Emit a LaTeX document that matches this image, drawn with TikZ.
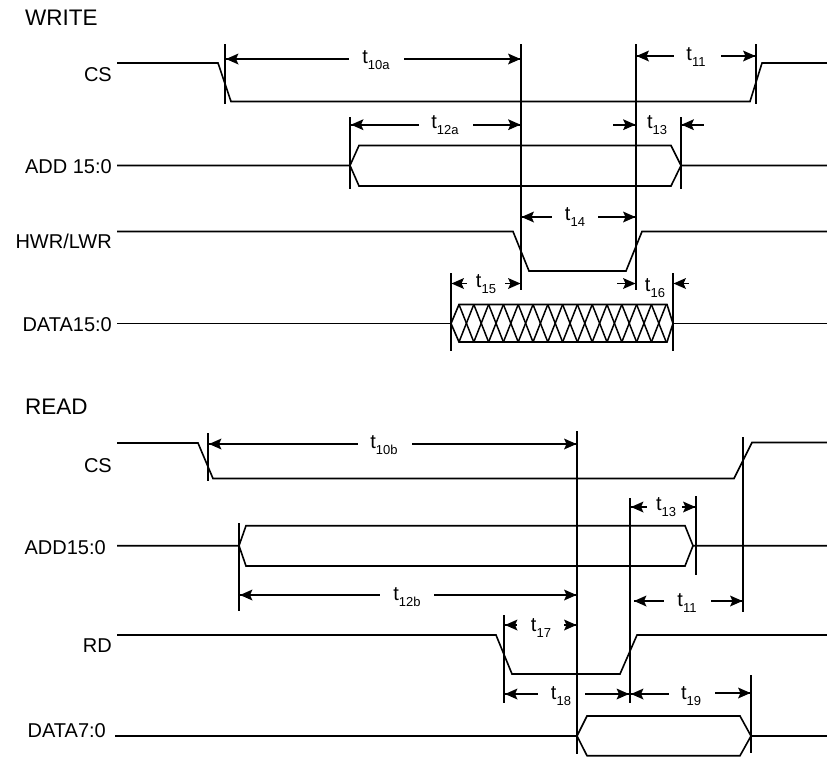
\documentclass[tikz,border=0pt]{standalone}
\usepackage{fontspec}
\setmainfont{Liberation Sans}
\newcommand{\tlab}[4]{\node[tlabel] (#1) at (#2,#3) {t\raisebox{-5.5pt}{\fontsize{13}{14}\selectfont #4}};}
\newcommand{\dimL}[3]{\draw[dimline] (#1,#3) -- (#2,#3);\fill[shift={(#1,#3)}] (0,0) -- (12.5,-5.5) -- (10,0) -- (12.5,5.5) -- cycle;}
\newcommand{\dimR}[3]{\draw[dimline] (#1,#3) -- (#2,#3);\fill[shift={(#2,#3)}] (0,0) -- (-12.5,-5.5) -- (-10,0) -- (-12.5,5.5) -- cycle;}
\tikzset{
  wave/.style={line width=1.6pt,line join=miter},
  vmark/.style={line width=1.6pt},
  dimline/.style={line width=1.6pt},
  siglabel/.style={font=\fontsize{20}{22}\selectfont,inner sep=0pt,anchor=east},
  title/.style={font=\fontsize{22.5}{24}\selectfont,inner sep=0pt,anchor=west},
  tlabel/.style={font=\fontsize{20}{22}\selectfont,inner sep=0pt}
}
\begin{document}
\begin{tikzpicture}[x=1pt,y=-1pt]
\useasboundingbox (0,0) rectangle (827,756);
% titles and signal names
\node[title] (wtitle) at (25,18) {WRITE};
\node[siglabel] (wcs) at (112,75) {CS};
\node[siglabel] (wadd) at (112,167) {ADD 15:0};
\node[siglabel] (whwr) at (112,241) {HWR/LWR};
\node[siglabel] (wdata) at (112,325) {DATA15:0};
\node[title] (rtitle) at (25,407) {READ};
\node[siglabel] (rcs) at (112,466) {CS};
\node[siglabel] (radd) at (106,548) {ADD15:0};
\node[siglabel] (rrd) at (112,646) {RD};
\node[siglabel] (rdata) at (106,731) {DATA7:0};
% WRITE waves
\draw[wave] (117,63) -- (218,63) -- (231,101.5) -- (750,101.5) -- (762,63) -- (827,63);
\draw[wave] (117,165.5) -- (350,165.5) -- (359,145.5) -- (671,145.5) -- (681,165.5) -- (827,165.5);
\draw[wave] (350,165.5) -- (359,186) -- (671,186) -- (681,165.5);
\draw[wave] (117,231.5) -- (513,231.5) -- (529,271) -- (626,271) -- (642,231.5) -- (827,231.5);
\draw[wave] (117,323.5) -- (451,323.5);
\draw[wave] (673,323.5) -- (827,323.5);
\draw[wave] (451,323.5) -- (459,304.5) -- (667,304.5) -- (673,323.5) -- (667,342) -- (459,342) -- cycle;
\foreach \i in {0,...,13} {
  \pgfmathsetmacro{\xa}{459+\i*14.8}
  \pgfmathsetmacro{\xb}{459+(\i+1)*14.8}
  \draw[line width=1.5pt] (\xa,304.5) -- (\xb,342);
  \draw[line width=1.5pt] (\xa,342) -- (\xb,304.5);
}
% WRITE verticals
\draw[vmark] (225,44) -- (225,104);
\draw[vmark] (521,44) -- (521,290);
\draw[vmark] (636,44) -- (636,290);
\draw[vmark] (756,44) -- (756,104);
\draw[vmark] (350,117) -- (350,189);
\draw[vmark] (681,117) -- (681,189);
\draw[vmark] (451,273) -- (451,351);
\draw[vmark] (673,273) -- (673,351);
% WRITE dimensions
\dimL{226}{349}{59} \dimR{404}{520.5}{59} \tlab{t10a}{376}{60}{10a}
\dimL{636.5}{674}{56} \dimR{721}{755.5}{56} \tlab{t11a}{696}{57}{11}
\dimL{351}{419}{124.7} \dimR{473}{520.5}{124.7} \tlab{t12a}{445}{125}{12a}
\dimR{613}{635.5}{124.7} \dimL{681.5}{704}{124.7} \tlab{t13a}{657}{125}{13}
\dimL{521.5}{552}{217} \dimR{598}{635.5}{217} \tlab{t14}{575}{217}{14}
\dimL{451.5}{467}{283.5} \dimR{505}{520.5}{283.5} \tlab{t15}{486}{284}{15}
\dimR{617}{635.5}{283.5} \dimL{673.5}{689}{283.5} \tlab{t16}{655}{288}{16}
% READ waves
\draw[wave] (117,443) -- (198,443) -- (213,478.5) -- (734,478.5) -- (752,442.5) -- (827,442.5);
\draw[wave] (117,545.7) -- (239,545.7) -- (246,525.7) -- (685,525.7) -- (693,545.7) -- (827,545.7);
\draw[wave] (239,545.7) -- (246,566) -- (685,566) -- (693,545.7);
\draw[wave] (117,635) -- (496,635) -- (512,674) -- (620,674) -- (637,635) -- (827,635);
\draw[wave] (115,736) -- (577,736) -- (587,716) -- (740,716) -- (751,736) -- (827,736);
\draw[wave] (577,736) -- (587,755.7) -- (740,755.7) -- (751,736);
% READ verticals
\draw[vmark] (208,433) -- (208,481);
\draw[vmark] (577,431) -- (577,754);
\draw[vmark] (630,498) -- (630,703);
\draw[vmark] (743,437) -- (743,612);
\draw[vmark] (696,496) -- (696,575);
\draw[vmark] (239,523) -- (239,611);
\draw[vmark] (504,615) -- (504,703);
\draw[vmark] (751,675) -- (751,753);
% READ dimensions
\dimL{209}{358}{444} \dimR{412}{576.5}{444} \tlab{t10b}{384}{445}{10b}
\dimL{631}{647}{507} \dimR{682}{695.5}{507} \tlab{t13b}{666}{507}{13}
\dimL{240}{380}{595} \dimR{434}{576.5}{595} \tlab{t12b}{407}{597}{12b}
\dimL{634}{664}{601} \dimR{711}{742.5}{601} \tlab{t11b}{687}{603}{11}
\dimL{505}{517}{625} \dimR{564}{576.5}{625} \tlab{t17}{541}{628}{17}
\dimL{505}{538}{694} \dimR{585}{629}{694} \tlab{t18}{561}{696}{18}
\dimL{631}{669}{694} \dimR{715}{750.5}{693} \tlab{t19}{691}{696}{19}
\end{tikzpicture}
\end{document}
